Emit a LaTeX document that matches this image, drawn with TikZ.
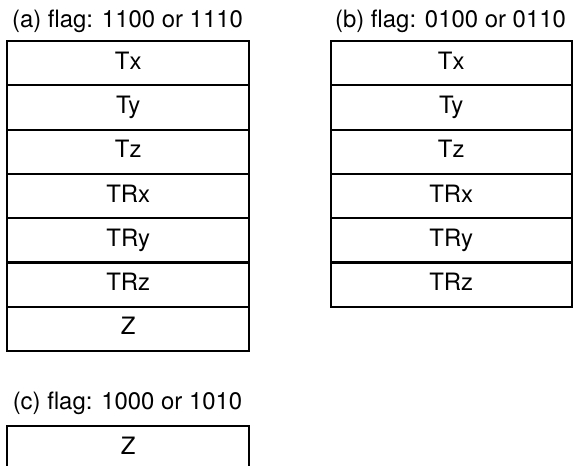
\documentclass[tikz,border=0pt]{standalone}
\usepackage{fontspec}
\setmainfont{TeX Gyre Heros}
\usetikzlibrary{positioning}

\begin{document}
\begin{tikzpicture}[x = 1bp, y = -1bp,
        every node/.style = {font = \fontsize{24}{28}\selectfont},
        cell/.style = {draw, line width = 2bp, outer sep = 0pt, inner sep = 0pt,
            minimum width = 241.5bp, minimum height = 44.3bp,
            text height = 17bp, text depth = 5bp}]
        \useasboundingbox (0, 0) rectangle (574, 466);

        \node [anchor = base] (titlea) at (127.5, 28) {(a) flag: 1100 or 1110};
        \node [anchor = base] (titleb) at (450.5, 28) {(b) flag: 0100 or 0110};
        \node [anchor = base] (titlec) at (127.5, 409) {(c) flag: 1000 or 1010};

        \foreach \t [count = \i] in {Tx, Ty, Tz, TRx, TRy, TRz, Z}
        \node [cell] (a\i) at (128.25, 41 + 44.3*\i - 22.15) {\t};
        \foreach \t [count = \i] in {Tx, Ty, Tz, TRx, TRy, TRz}
        \node [cell] (b\i) at (451.25, 41 + 44.3*\i - 22.15) {\t};

        \node [cell] (c1) at (128.25, 426 + 22.15) {Z};
    \end{tikzpicture}
\end{document}
